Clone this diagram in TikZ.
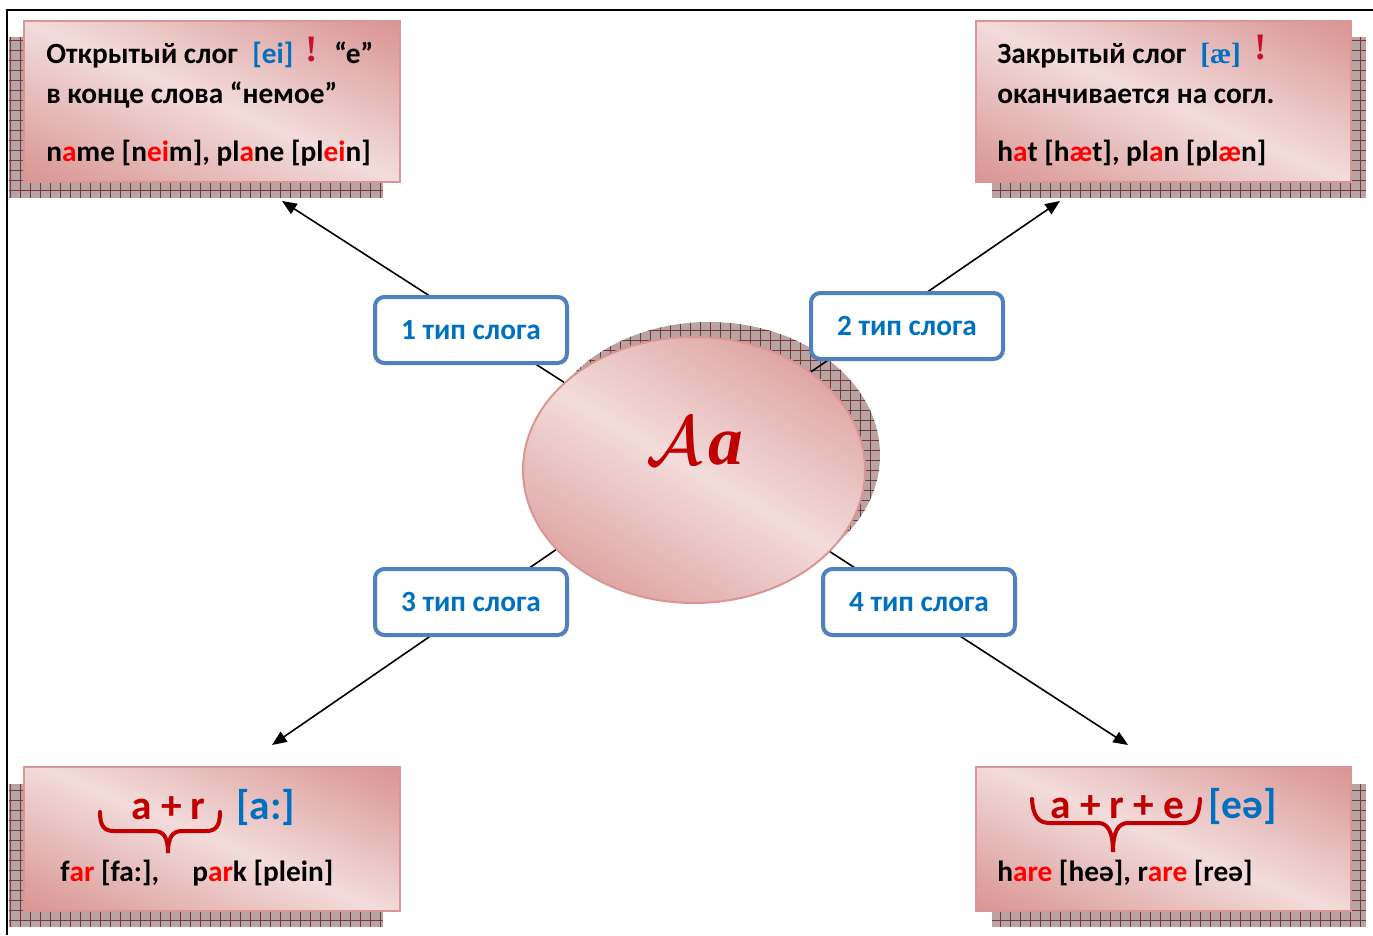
\documentclass[tikz,border=0pt]{standalone}
\usepackage{graphicx}
\usepackage{fontspec}
\setmainfont{Carlito}
\newfontfamily\serifb{Liberation Serif}
\usetikzlibrary{shapes.geometric,arrows.meta}
\definecolor{pinkdark}{HTML}{D99694}
\definecolor{pinklight}{HTML}{F2DCDB}
\definecolor{shadowfill}{HTML}{B9A3A3}
\definecolor{gridline}{HTML}{733A3A}
\definecolor{tblue}{HTML}{0070C0}
\definecolor{bblue}{HTML}{4F81BD}
\definecolor{dred}{HTML}{C00000}
\definecolor{hred}{HTML}{FF0000}
\definecolor{excl}{HTML}{C8102E}
\pgfdeclarehorizontalshading{pinkrefl}{100bp}{color(0bp)=(pinkdark); color(18bp)=(pinkdark); color(50bp)=(pinklight); color(82bp)=(pinkdark); color(100bp)=(pinkdark)}
\newcommand{\hl}[1]{\textcolor{hred}{#1}}
\newcommand{\scrA}{\scalebox{5.2}{$\mathcal{A}$}}
\newcommand{\bigAa}{{\color{dred}\rlap{\scrA}\kern0.6pt\scrA\kern4pt{\fontsize{52}{54}\selectfont\serifb\bfseries\itshape a}}}
\begin{document}
\begin{tikzpicture}[x=0.75pt,y=-0.75pt,
  pinkbox/.style={draw=pinkdark, line width=1.5pt, shading=pinkrefl, shading angle=67, inner sep=0pt, rectangle},
  typebox/.style={draw=bblue, line width=3pt, fill=white, rounded corners=7pt, minimum width=144pt, minimum height=49.5pt, inner sep=0pt, text=tblue, font=\fontsize{22}{26}\selectfont\bfseries},
  txt/.style={anchor=base west, inner sep=0pt, font=\fontsize{22}{26}\selectfont\bfseries},
  bigtxt/.style={anchor=base west, inner sep=0pt, font=\fontsize{31}{34}\selectfont\bfseries},
  exclm/.style={anchor=base west, inner sep=0pt, text=excl, font=\fontsize{28}{30}\selectfont\serifb\bfseries},
  conn/.style={draw=black, line width=1.2pt, -{Triangle[length=11pt,width=9pt]}},
  bracestyle/.style={draw=dred, line width=3pt, line cap=round},
  gridstyle/.style={draw=gridline, line width=0.6pt}
]
\useasboundingbox (0,0) rectangle (1373,935);
% frame
\draw[line width=1.6pt] (1373,10) -- (7,10) -- (7,935);

% rectangular shadows
\foreach \xa/\ya/\xb/\yb in {9/37/383/198, 992/37/1366/198, 9/784/383/927, 992/784/1366/927}{
  \begin{scope}
    \clip (\xa,\ya) rectangle (\xb,\yb);
    \fill[shadowfill] (\xa,\ya) rectangle (\xb,\yb);
    \draw[gridstyle, step=7.5pt] (\xa,\ya) grid (\xb,\yb);
  \end{scope}
}
% ellipse shadow
\begin{scope}
  \clip (709,455) ellipse [x radius=171, y radius=133];
  \fill[shadowfill] (538,322) rectangle (880,588);
  \draw[gridstyle, step=7.5pt] (538,322) grid (880,588);
\end{scope}

% boxes
\node[pinkbox, minimum width=282pt, minimum height=120.75pt] (boxTL) at (212,101.5) {};
\node[pinkbox, minimum width=281.25pt, minimum height=120.75pt] (boxTR) at (1163.5,101.5) {};
\node[pinkbox, minimum width=282pt, minimum height=108pt] (boxBL) at (212,839) {};
\node[pinkbox, minimum width=281.25pt, minimum height=108pt] (boxBR) at (1163.5,839) {};

% ellipse
\node[ellipse, draw=pinkdark, line width=1.5pt, shading=pinkrefl, shading angle=60, minimum width=256.5pt, minimum height=199.5pt, inner sep=0pt] (ell) at (694,470) {};
\node[inner sep=0pt] (lettersAa) at (695,441) {\bigAa};

% arrow tips
\coordinate (tip1) at (282,201);
\coordinate (tip2) at (1060,201);
\coordinate (tip3) at (272,745);
\coordinate (tip4) at (1128,745);

\draw[conn] (ell.146) -- (tip1);
\draw[conn] (ell.40) -- (tip2);
\draw[conn] (ell.210) -- (tip3);
\draw[conn] (ell.329) -- (tip4);

% type labels
\node[typebox] (t1) at (471,330) {1 тип слога};
\node[typebox] (t2) at (907,326) {2 тип слога};
\node[typebox] (t3) at (471,602) {3 тип слога};
\node[typebox] (t4) at (919,602) {4 тип слога};

% TL text
\node[txt] (tl1) at (46,63) {Открытый слог};
\node[txt, text=tblue] (tl2) at (252,63) {[ei]};
\node[exclm] (tl3) at (305,61) {!};
\node[txt] (tl4) at (334,63) {“e”};
\node[txt] (tl5) at (46,103) {в конце слова “немое”};
\node[txt] (tl6) at (46,161) {n\hl{a}me [n\hl{ei}m], pl\hl{a}ne [pl\hl{ei}n]};

% TR text
\node[txt] (tr1) at (997,63) {Закрытый слог};
\node[txt, text=tblue, font=\fontsize{22}{26}\selectfont\serifb\bfseries] (tr2) at (1200,63) {[æ]};
\node[exclm] (tr3) at (1254,59) {!};
\node[txt] (tr4) at (997,103) {оканчивается на согл.};
\node[txt] (tr5) at (997,161) {h\hl{a}t [h\hl{æ}t], pl\hl{a}n [pl\hl{æ}n]};

% BL text
\node[bigtxt, text=dred] (bl1) at (131,819) {a + r};
\node[bigtxt, text=tblue] (bl2) at (236,819) {[a:]};
\draw[bracestyle] (100,812) .. controls (100,826) and (104,831) .. (114,831) -- (154,831) .. controls (164,831) and (168,838) .. (168,853) .. controls (168,838) and (172,831) .. (182,831) -- (206,831) .. controls (216,831) and (220,826) .. (220,812);
\node[txt] (bl3) at (60,881) {f\hl{ar} [fa:],};
\node[txt] (bl4) at (192,881) {p\hl{ar}k [plein]};

% BR text
\node[bigtxt, text=dred] (br1) at (1050,818) {a + r + e};
\node[bigtxt, text=tblue] (br2) at (1208,818) {[eə]};
\draw[bracestyle] (1032,799) .. controls (1033,816) and (1038,823) .. (1050,823) -- (1098,823) .. controls (1108,823) and (1113,832) .. (1113,852) .. controls (1113,832) and (1118,823) .. (1128,823) -- (1184,823) .. controls (1195,823) and (1199,816) .. (1200,799);
\node[txt] (br3) at (997,881) {h\hl{are} [heə], r\hl{are} [reə]};
\end{tikzpicture}
\end{document}
